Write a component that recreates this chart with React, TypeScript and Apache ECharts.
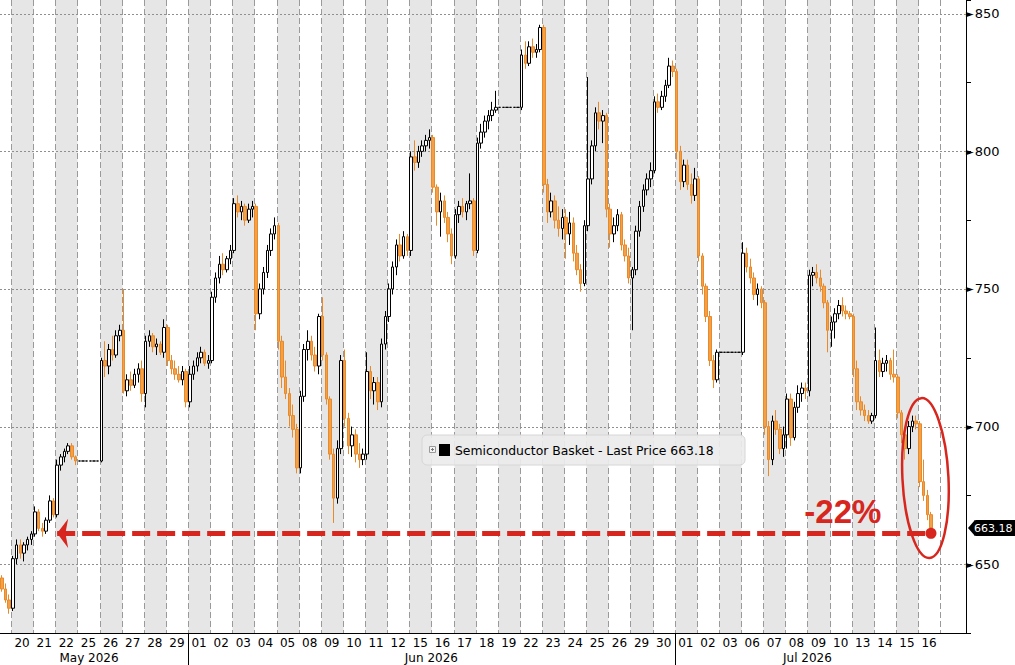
import React, { useEffect, useRef } from 'react';
import * as echarts from 'echarts';

// ---- tick labels ----
const mayDays = ['20', '21', '22', '25', '26', '27', '28', '29'];
const junDays = ['01', '02', '03', '04', '05', '08', '09', '10', '11', '12', '15', '16', '17', '18', '19', '22', '23', '24', '25', '26', '29', '30'];
const julDays = ['01', '02', '03', '06', '07', '08', '09', '10', '13', '14', '15', '16'];
const monthNames = ['May 2026', 'Jun 2026', 'Jul 2026'];
const yGridLevels = [650, 700, 750, 800, 850];

// ---- series values: intraday bars [open, high, low, close] ----
// tail of 19 May
const leadBars = [
  [645, 646, 640, 641], [641, 643, 636, 637], [637, 639, 632, 634],
];
const mayBars = [
  // 20
  [634, 653, 633, 652], [652, 659, 650, 657], [657, 659, 652, 654], [654, 658, 651, 657], [657, 660, 655, 659], [659, 662, 657, 661],
  // 21
  [661, 671, 660, 669], [669, 670, 662, 663], [663, 665, 660, 662], [662, 667, 661, 666], [666, 675, 665, 673], [673, 674, 667, 668],
  // 22
  [668, 688, 667, 686], [686, 690, 684, 689], [689, 692, 687, 691], [691, 694, 690, 693], [693, 694, 688, 689], [689, 689.5, 686, 687.5],
  // 25 (holiday)
  [687.5, 687.5, 687.5, 687.5], [687.5, 687.5, 687.5, 687.5], [687.5, 687.5, 687.5, 687.5], [687.5, 687.5, 687.5, 687.5], [687.5, 687.5, 687.5, 687.5], [687.5, 687.5, 687.5, 687.5],
  // 26
  [687.5, 725, 687, 724], [724, 731, 718, 722], [722, 730, 719, 728], [728, 733, 724, 726], [726, 735, 725, 733], [733, 737, 731, 735],
  // 27
  [735, 750, 712, 713], [713, 719, 711, 717], [717, 720, 713, 715], [715, 721, 714, 719], [719, 723, 716, 721], [721, 724, 709, 712],
  // 28
  [712, 733, 707, 731], [731, 735, 729, 733], [733, 734, 727, 729], [729, 732, 726, 730], [730, 731, 726, 727], [727, 739, 725, 736],
  // 29
  [736, 737, 722, 724], [724, 726, 719, 721], [721, 724, 717, 719], [719, 722, 716, 717], [717, 722, 715, 720], [720, 721, 707, 709],
];
const junBars = [
  // 01
  [709, 722, 707, 719], [719, 724, 717, 722], [722, 727, 720, 725], [725, 729, 723, 727], [727, 728, 722, 723], [723, 726, 721, 724],
  // 02
  [724, 749, 723, 747], [747, 756, 745, 754], [754, 762, 752, 759], [759, 763, 755, 757], [757, 762, 756, 761], [761, 766, 759, 764],
  // 03
  [764, 783, 763, 781], [781, 784, 776, 778], [778, 782, 775, 780], [780, 781, 773, 775], [775, 781, 774, 779], [779, 782, 776, 780],
  // 04
  [780, 781, 735, 741], [741, 752, 739, 750], [750, 758, 748, 756], [756, 766, 754, 764], [764, 772, 762, 770], [770, 776, 768, 773],
  // 05
  [773, 774, 728, 731], [731, 733, 714, 718], [718, 724, 710, 712], [712, 714, 700, 704], [704, 708, 696, 699], [699, 701, 683, 685],
  // 08
  [685, 713, 683, 711], [711, 730, 709, 728], [728, 735, 724, 731], [731, 733, 724, 726], [726, 729, 720, 722], [722, 741, 719, 740],
  // 09
  [740, 747, 724, 726], [726, 727, 708, 710], [710, 711, 688, 690], [690, 692, 665, 674], [674, 695, 672, 692], [692, 726, 690, 724],
  // 10
  [724, 728, 700, 703], [703, 705, 690, 693], [693, 700, 689, 697], [697, 699, 687, 690], [690, 694, 685, 688], [688, 692, 686, 690],
  // 11
  [690, 727, 688, 720], [720, 722, 710, 713], [713, 718, 708, 716], [716, 718, 706, 709], [709, 732, 707, 730], [730, 742, 728, 740],
  // 12
  [740, 752, 738, 750], [750, 760, 748, 758], [758, 768, 755, 766], [766, 770, 760, 762], [762, 771, 761, 769], [769, 770, 762, 764],
  // 15
  [764, 800, 762, 798], [798, 804, 793, 796], [796, 802, 794, 800], [800, 804, 798, 802], [802, 806, 800, 804], [804, 808, 801, 805],
  // 16
  [805, 806, 785, 787], [787, 788, 773, 778], [778, 785, 769, 782], [782, 784, 774, 776], [776, 778, 767, 770], [770, 772, 759, 762],
  // 17
  [762, 779, 761, 777], [777, 782, 774, 780], [780, 783, 776, 778], [778, 782, 775, 781], [781, 792, 779, 782], [782, 783, 762, 764],
  // 18
  [764, 805, 763, 803], [803, 810, 801, 807], [807, 813, 805, 811], [811, 815, 808, 813], [813, 818, 811, 815], [815, 822, 814, 816],
  // 19 (holiday)
  [816, 816, 816, 816], [816, 816, 816, 816], [816, 816, 816, 816], [816, 816, 816, 816], [816, 816, 816, 816], [816, 816, 816, 816],
  // 22
  [816, 837, 815, 835], [835, 840, 830, 832], [832, 840, 831, 838], [838, 841, 834, 836], [836, 839, 834, 837], [837, 846, 836, 845],
  // 23
  [845, 846, 785, 788], [788, 790, 774, 778], [778, 785, 776, 782], [782, 784, 772, 775], [775, 780, 769, 772], [772, 779, 768, 776],
  // 24
  [776, 779, 761, 770], [770, 778, 766, 774], [774, 776, 760, 763], [763, 766, 755, 757], [757, 759, 749, 752], [752, 775, 751, 773],
  // 25
  [773, 827, 771, 790], [790, 804, 788, 802], [802, 816, 800, 814], [814, 818, 808, 811], [811, 815, 803, 813], [813, 814, 776, 779],
  // 26
  [779, 781, 765, 770], [770, 776, 767, 773], [773, 779, 771, 777], [777, 778, 764, 766], [766, 768, 760, 762], [762, 765, 752, 754],
  // 29
  [754, 758, 735, 757], [757, 773, 755, 771], [771, 782, 769, 780], [780, 788, 778, 786], [786, 792, 784, 790], [790, 796, 787, 793],
  // 30
  [793, 820, 792, 818], [818, 821, 814, 816], [816, 822, 815, 820], [820, 826, 818, 824], [824, 834, 823, 831], [831, 833, 827, 829],
];
const julBars = [
  // 01
  [829, 830, 797, 800], [800, 802, 786, 789], [789, 797, 787, 795], [795, 797, 786, 788], [788, 792, 781, 784], [784, 794, 782, 790],
  // 02
  [790, 791, 760, 762], [762, 763, 748, 751], [751, 752, 738, 740], [740, 742, 722, 724], [724, 726, 714, 717], [717, 728, 716, 727],
  // 03 (holiday)
  [727, 727, 727, 727], [727, 727, 727, 727], [727, 727, 727, 727], [727, 727, 727, 727], [727, 727, 727, 727], [727, 727, 727, 727],
  // 06
  [727, 767, 726, 763], [763, 765, 756, 758], [758, 761, 752, 754], [754, 756, 746, 748], [748, 752, 744, 750], [750, 751, 743, 745],
  // 07
  [745, 746, 697, 700], [700, 702, 682, 688], [688, 704, 686, 702], [702, 706, 697, 699], [699, 701, 690, 692], [692, 700, 689, 697],
  // 08
  [697, 712, 692, 710], [710, 712, 693, 696], [696, 709, 695, 707], [707, 715, 705, 712], [712, 716, 709, 714], [714, 716, 710, 713],
  // 09
  [713, 757, 711, 755], [755, 758, 751, 756], [756, 759, 752, 754], [754, 757, 749, 751], [751, 752, 743, 745], [745, 746, 727, 735],
  // 10
  [735, 740, 729, 738], [738, 743, 732, 741], [741, 746, 739, 744], [744, 747, 740, 742], [742, 744, 739, 741], [741, 742, 739, 740],
  // 13
  [740, 741, 718, 721], [721, 724, 706, 709], [709, 711, 704, 706], [706, 708, 702, 704], [704, 706, 701, 702], [702, 705, 701, 704],
  // 14
  [704, 736, 703, 724], [724, 728, 718, 720], [720, 725, 718, 723], [723, 726, 720, 724], [724, 725, 717, 719], [719, 728, 716, 718],
  // 15
  [718, 719, 703, 705], [705, 706, 694, 697], [697, 699, 688, 692], [692, 702, 690, 700], [700, 704, 698, 702], [702, 704, 699, 701],
  // 16 (partial)
  [701, 702, 678, 680], [680, 688, 673, 675], [675, 677, 666, 668], [668, 669, 662, 663.18],
];
const lastPrice = 663.18;
const arrowLevel = 661.2;
const seriesName = 'Semiconductor Basket - Last Price 663.18';

// ---- layout constants (slots per day etc.) ----
const PER_DAY = 6;
const LEAD = 3;
const TOTAL_SLOTS = 262;
const Y_MIN = 625;
const Y_MAX = 855;

const RED = '#d7261e';

export default function App() {
  const ref = useRef<HTMLDivElement>(null);

  useEffect(() => {
    if (!ref.current) return;
    const chart = echarts.init(ref.current, null, { renderer: 'svg' });

    const dayLabels = [...mayDays, ...junDays, ...julDays];
    const monthDays = [mayDays.length, junDays.length, julDays.length];
    const bars = [...leadBars, ...mayBars, ...junBars, ...julBars];
    const slots = Array.from({ length: TOTAL_SLOTS }, (_, i) => String(i));
    const candleData = bars.map(([o, h, l, c]) => [o, c, l, h]);
    const lastIdx = bars.length - 1;

    // month ranges in slot units
    const monthRanges: number[][] = [];
    let acc = 0;
    monthDays.forEach((n, m) => {
      const start = m === 0 ? 0 : LEAD + acc * PER_DAY;
      const end = LEAD + (acc + n) * PER_DAY;
      monthRanges.push([start, end, m]);
      acc += n;
    });

    const crisp = (v: number) => Math.round(v) + 0.5;

    const option: any = {
      animation: false,
      textStyle: { fontFamily: 'DejaVu Sans' },
      grid: { left: 0, right: 49, top: 0, bottom: 32, containLabel: false, outerBoundsMode: 'none' },
      xAxis: [
        { type: 'category', data: slots, boundaryGap: true, show: false },
        {
          type: 'value', min: 0, max: TOTAL_SLOTS, interval: PER_DAY, position: 'bottom',
          axisLine: { show: true, onZero: false, lineStyle: { color: '#000', width: 1 } },
          axisTick: { show: false },
          splitLine: { show: false },
          axisLabel: {
            color: '#000', fontSize: 12, fontFamily: 'DejaVu Sans', margin: 4,
            showMinLabel: true, showMaxLabel: true, hideOverlap: false,
            formatter: (v: number) => {
              const d = Math.round(v / PER_DAY) - 1;
              return d >= 0 && d < dayLabels.length ? dayLabels[d] : '';
            },
          },
        },
      ],
      yAxis: {
        type: 'value', position: 'right', min: Y_MIN, max: Y_MAX, interval: 25,
        axisLine: { show: true, onZero: false, lineStyle: { color: '#000', width: 1 } },
        axisTick: { show: true, inside: false, length: 5, lineStyle: { color: '#000' } },
        splitLine: { show: false },
        axisLabel: {
          color: '#000', margin: 0,
          formatter: (v: number) => (yGridLevels.indexOf(v) >= 0 ? `{a|►}{b|${v}}` : ''),
          rich: {
            a: { fontSize: 10, fontFamily: 'DejaVu Sans', color: '#000', padding: [0, 1, 0, 0] },
            b: { fontSize: 13, fontFamily: 'DejaVu Sans', color: '#000' },
          },
        },
      },
      series: [
        {
          type: 'custom', name: 'bands', xAxisIndex: 1, yAxisIndex: 0, silent: true, z: 0,
          data: dayLabels.map((_, i) => [i, 700]),
          renderItem: (params: any, api: any) => {
            const d = api.value(0);
            const p0 = api.coord([LEAD + d * PER_DAY, Y_MAX]);
            const p1 = api.coord([LEAD + (d + 1) * PER_DAY, Y_MIN]);
            const x0 = crisp(p0[0]);
            const x1 = crisp(p1[0]);
            const children: any[] = [];
            if (d % 2 === 0) {
              children.push({ type: 'rect', shape: { x: x0, y: p0[1], width: x1 - x0, height: p1[1] - p0[1] }, style: { fill: '#e6e6e6' } });
            }
            children.push({ type: 'line', shape: { x1: x0, y1: p0[1], x2: x0, y2: p1[1] }, style: { stroke: '#9a9a9a', lineWidth: 1, lineDash: [6, 3] } });
            if (d === dayLabels.length - 1) {
              children.push({ type: 'line', shape: { x1: x1, y1: p0[1], x2: x1, y2: p1[1] }, style: { stroke: '#9a9a9a', lineWidth: 1, lineDash: [6, 3] } });
            }
            return { type: 'group', children };
          },
        },
        {
          type: 'custom', name: 'hgrid', xAxisIndex: 1, yAxisIndex: 0, silent: true, z: 1,
          data: yGridLevels.map((v) => [0, v]),
          renderItem: (params: any, api: any) => {
            const v = api.value(1);
            const a = api.coord([0, v]);
            const b = api.coord([TOTAL_SLOTS, v]);
            const y = crisp(a[1]);
            return { type: 'line', shape: { x1: a[0], y1: y, x2: b[0], y2: y }, style: { stroke: '#8f8f8f', lineWidth: 1, lineDash: [2, 2] } };
          },
        },
        {
          type: 'custom', name: 'months', xAxisIndex: 1, yAxisIndex: 0, silent: true, z: 1, clip: false,
          data: monthRanges.map(([s, e, m]) => [s, Y_MIN, e, m]),
          renderItem: (params: any, api: any) => {
            const s = api.value(0);
            const e = api.value(2);
            const m = api.value(3);
            const a = api.coord([s, Y_MIN]);
            const b = api.coord([e, Y_MIN]);
            const children: any[] = [
              { type: 'text', x: (a[0] + b[0]) / 2 - (s === 0 ? 5 : 0), y: a[1] + 25, style: { text: monthNames[m], fill: '#000', fontSize: 12, fontFamily: 'DejaVu Sans', align: 'center', verticalAlign: 'middle' } },
            ];
            if (s > 0) {
              const x = crisp(a[0]);
              children.push({ type: 'line', shape: { x1: x, y1: a[1], x2: x, y2: a[1] + 40 }, style: { stroke: '#000', lineWidth: 1 } });
            }
            return { type: 'group', children };
          },
        },
        {
          type: 'candlestick', name: seriesName, xAxisIndex: 0, yAxisIndex: 0, z: 3,
          data: candleData,
          barWidth: 3,
          itemStyle: { color: '#ffffff', color0: '#f4a046', borderColor: '#000000', borderColor0: '#e8892a', borderWidth: 1 },
          markLine: {
            silent: true, animation: false,
            symbol: ['arrow', 'circle'], symbolSize: [22, 11],
            label: { show: false },
            lineStyle: { color: RED, width: 5, type: [18, 7], opacity: 1 },
            itemStyle: { color: RED },
            data: [[{ coord: [15, arrowLevel] }, { coord: [lastIdx, arrowLevel] }]],
          },
        },
      ],
    };

    chart.setOption(option);

    // annotations positioned through the chart's own scales
    const axisX = chart.convertToPixel({ xAxisIndex: 1 } as any, TOTAL_SLOTS) as number;
    const py = chart.convertToPixel({ yAxisIndex: 0 } as any, lastPrice) as number;
    const ell = chart.convertToPixel({ xAxisIndex: 1, yAxisIndex: 0 } as any, [251, 681.3]) as number[];
    const txt = chart.convertToPixel({ xAxisIndex: 1, yAxisIndex: 0 } as any, [228.6, 669.3]) as number[];

    chart.setOption({
      graphic: [
        {
          type: 'group', x: 422, y: 435, z: 10, silent: true,
          children: [
            { type: 'rect', shape: { x: 0, y: 0, width: 323, height: 30, r: 5 }, style: { fill: 'rgba(236,236,236,0.92)', stroke: '#d6d6d6', lineWidth: 1 } },
            { type: 'rect', shape: { x: 7.5, y: 11.5, width: 6, height: 6 }, style: { fill: '#f4f4f4', stroke: '#9a9a9a', lineWidth: 1 } },
            { type: 'line', shape: { x1: 9, y1: 14.5, x2: 12, y2: 14.5 }, style: { stroke: '#777', lineWidth: 1 } },
            { type: 'line', shape: { x1: 10.5, y1: 13, x2: 10.5, y2: 16 }, style: { stroke: '#777', lineWidth: 1 } },
            { type: 'rect', shape: { x: 17, y: 9, width: 11, height: 12 }, style: { fill: '#000' } },
            { type: 'text', x: 33, y: 15.5, style: { text: seriesName, fill: '#000', fontSize: 12.4, fontFamily: 'DejaVu Sans', verticalAlign: 'middle' } },
          ],
        },
        {
          type: 'group', z: 10, silent: true,
          children: [
            { type: 'polygon', shape: { points: [[axisX + 2, py], [axisX + 9, py - 8], [axisX + 9, py + 8]] }, style: { fill: '#000' } },
            { type: 'rect', shape: { x: axisX + 8, y: py - 8, width: 43, height: 16, r: 2 }, style: { fill: '#000' } },
            { type: 'text', x: axisX + 8, y: py + 0.5, style: { text: lastPrice.toFixed(2), fill: '#fff', fontSize: 11, fontFamily: 'DejaVu Sans', verticalAlign: 'middle' } },
          ],
        },
        {
          type: 'ellipse', z: 10, silent: true, x: ell[0], y: ell[1], rotation: 0.05,
          shape: { cx: 0, cy: 0, rx: 23, ry: 80 },
          style: { fill: 'none', stroke: RED, lineWidth: 2.5 },
        },
        {
          type: 'text', z: 10, silent: true, x: txt[0], y: txt[1],
          style: { text: '-22%', fill: RED, fontSize: 33, fontWeight: 'bold', fontFamily: 'Liberation Sans', align: 'center', verticalAlign: 'middle' },
        },
      ],
    });

    return () => chart.dispose();
  }, []);

  return <div ref={ref} style={{ position: 'fixed', left: 0, top: 0, width: 1015, height: 665, background: '#fff' }} />;
}
